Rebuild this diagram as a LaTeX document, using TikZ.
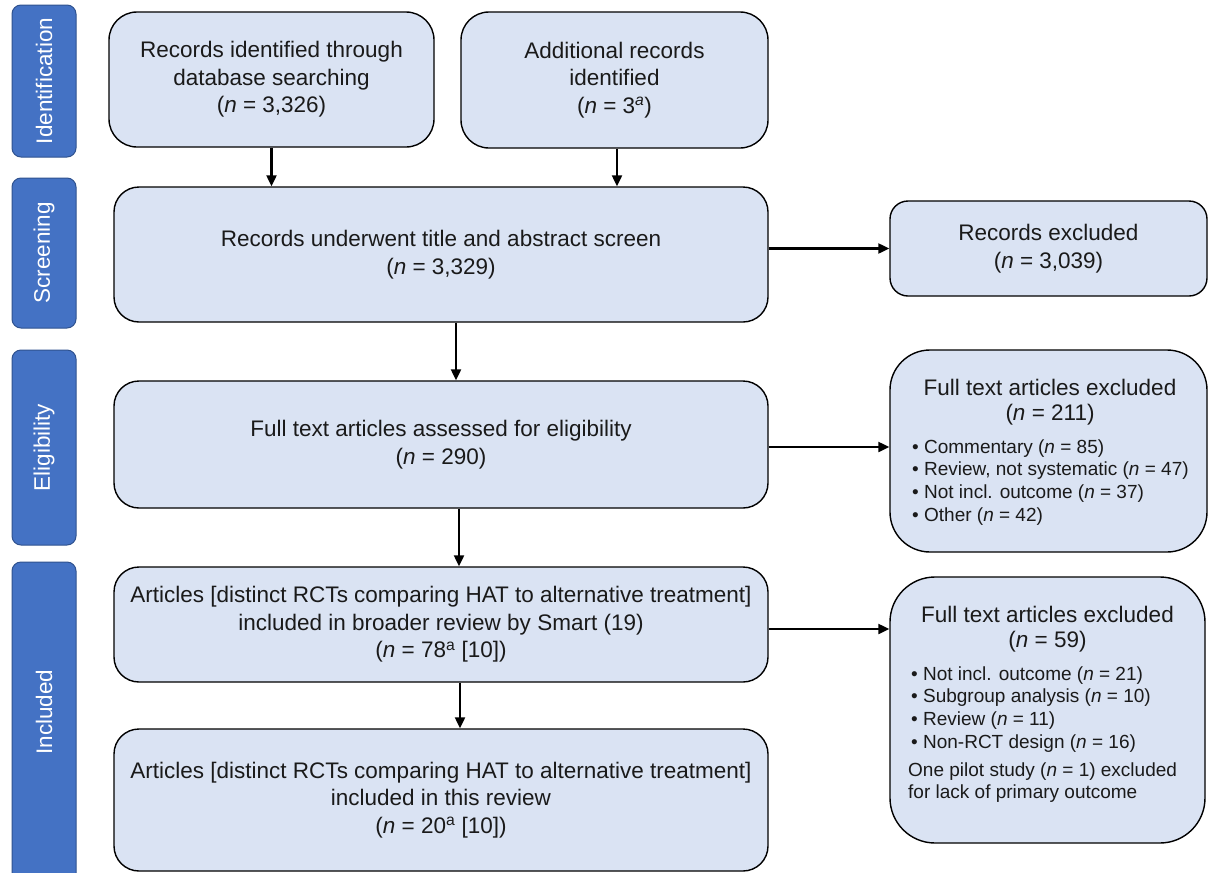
\documentclass[tikz,border=0pt]{standalone}
\usepackage{fontspec}
\setmainfont{Liberation Sans}
\usetikzlibrary{arrows.meta,calc}
\definecolor{boxfill}{HTML}{DAE3F3}
\definecolor{tabfill}{HTML}{4472C4}
\definecolor{tabline}{HTML}{2F528F}
\definecolor{txtcol}{HTML}{1A1A1A}
\begin{document}
\begin{tikzpicture}[x=1pt,y=-1pt,
  box/.style={draw=black, line width=1.4pt, fill=boxfill, rounded corners=25pt,
    align=center, inner sep=0pt, text=txtcol, font=\fontsize{22.5}{27.5}\selectfont},
  tabbox/.style={draw=tabline, line width=1pt, fill=tabfill, rounded corners=9pt,
    rotate=90, minimum height=64pt, inner sep=0pt},
  tablabel/.style={rotate=90, inner sep=0pt, text=white, font=\fontsize{22.5}{27}\selectfont},
  arr/.style={line width=2.2pt, -{Triangle[length=11pt,width=10pt]}},
  hd/.style={inner sep=0pt, anchor=base, text=txtcol, font=\fontsize{22.5}{25}\selectfont},
  lst/.style={inner sep=0pt, anchor=base west, text=txtcol, font=\fontsize{19}{22.7}\selectfont}
]
\useasboundingbox (0,0) rectangle (1208,873);
\fill[white] (0,0) rectangle (1208,873);

% side tabs
\node[tabbox, minimum width=152pt] (tabA) at (44,81) {};
\node[tablabel] (labA) at (44,81) {Identification};
\node[tabbox, minimum width=150pt] (tabB) at (44,253) {};
\node[tablabel] (labB) at (44,253) {Screening};
\node[tabbox, minimum width=195pt] (tabC) at (44,447.5) {};
\node[tablabel] (labC) at (44,447.5) {Eligibility};
\node[tabbox, minimum width=330pt] (tabD) at (44,727) {};
\node[tablabel] (labD) at (44,712) {Included};

% main boxes
\node[box, rounded corners=28pt, minimum width=325pt, minimum height=135pt] (idA) at (271.5,79.5)
  {Records identified through\\database searching\\(\textit{n} = 3,326)};
\node[box, rounded corners=28pt, minimum width=307pt, minimum height=136pt] (idB) at (614.5,80)
  {Additional records\\identified\\(\textit{n} = 3\textsuperscript{\textit{a}})};
\node[box, minimum width=654pt, minimum height=135pt] (scr) at (441,254.5)
  {Records underwent title and abstract screen\\(\textit{n} = 3,329)};
\node[box, rounded corners=18pt, minimum width=317pt, minimum height=95pt] (rex) at (1048.5,248.5)
  {Records excluded\\(\textit{n} = 3,039)};
\node[box, minimum width=654pt, minimum height=127pt] (elig) at (441,444.5)
  {Full text articles assessed for eligibility\\(\textit{n} = 290)};
\node[box, rounded corners=40pt, minimum width=317pt, minimum height=202pt] (exA) at (1048.5,451) {};
\node[box, minimum width=654pt, minimum height=115pt] (artA) at (441,624.5)
  {Articles [distinct RCTs comparing HAT to alternative treatment]\\included in broader review by Smart (19)\\(\textit{n} = 78\textsuperscript{a} [10])};
\node[box, rounded corners=45pt, minimum width=315pt, minimum height=266pt] (exB) at (1047.5,710) {};
\node[box, minimum width=654pt, minimum height=142pt] (artB) at (441,800)
  {Articles [distinct RCTs comparing HAT to alternative treatment]\\included in this review\\(\textit{n} = 20\textsuperscript{a} [10])};

% texts of the exclusion boxes
\node[hd] (exAh) at (1050,395) {\begin{tabular}[t]{@{}c@{}}Full text articles excluded\\(\textit{n} = 211)\end{tabular}};
\node[lst] (exAl) at (912,453) {\begin{tabular}[t]{@{}l@{}}%
  • Commentary (\textit{n} = 85)\\
  • Review, not systematic (\textit{n} = 47)\\
  • Not incl. outcome (\textit{n} = 37)\\
  • Other (\textit{n} = 42)\end{tabular}};
\node[hd] (exBh) at (1047.5,622) {\begin{tabular}[t]{@{}c@{}}Full text articles excluded\\(\textit{n} = 59)\end{tabular}};
\node[lst] (exBl) at (911,680) {\begin{tabular}[t]{@{}l@{}}%
  • Not incl. outcome (\textit{n} = 21)\\
  • Subgroup analysis (\textit{n} = 10)\\
  • Review (\textit{n} = 11)\\
  • Non-RCT design (\textit{n} = 16)\end{tabular}};
\node[lst] (exBp) at (908,776) {\begin{tabular}[t]{@{}l@{}}%
  One pilot study (\textit{n} = 1) excluded\\
  for lack of primary outcome\end{tabular}};

% connectors
\draw[arr] (idA.south) -- (idA.south |- scr.north);
\draw[arr] ([xshift=2.5pt]idB.south) -- ([xshift=2.5pt]idB.south |- scr.north);
\draw[arr] (scr.east |- rex.west) -- (rex.west);
\draw[arr] ([xshift=15pt]scr.south) -- ([xshift=15pt]scr.south |- elig.north);
\draw[arr] ([yshift=-2.5pt]elig.east) -- ([yshift=-2.5pt]elig.east -| exA.west);
\draw[arr] ([xshift=18pt]elig.south) -- ([xshift=18pt]elig.south |- artA.north);
\draw[arr] ([yshift=-4.5pt]artA.east) -- ([yshift=-4.5pt]artA.east -| exB.west);
\draw[arr] ([xshift=19pt]artA.south) -- ([xshift=19pt]artA.south |- artB.north);
\end{tikzpicture}
\end{document}
